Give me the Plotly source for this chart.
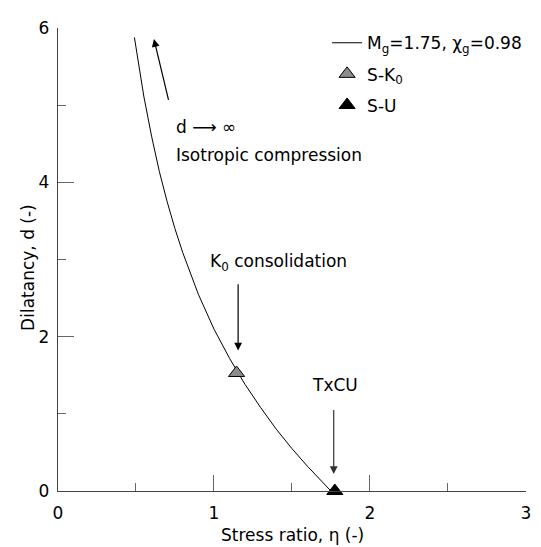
import plotly.graph_objects as go

# Dilatancy curve
eta_curve = [0.49, 0.52, 0.55, 0.60, 0.65, 0.70, 0.75, 0.80, 0.90, 1.00, 1.10, 1.20, 1.30, 1.40, 1.50, 1.60, 1.70, 1.75]
d_curve = [5.88, 5.48, 5.12, 4.60, 4.14, 3.75, 3.40, 3.09, 2.55, 2.10, 1.72, 1.38, 1.08, 0.80, 0.55, 0.32, 0.10, 0.0]

# Test points
eta_sk0 = [1.145]
d_sk0 = [1.53]
eta_su = [1.775]
d_su = [0.0]

x_ticks = [0, 1, 2, 3]
y_ticks = [0, 2, 4, 6]

FONT = "DejaVu Sans"
fs = 17

fig = go.Figure()
fig.add_trace(go.Scatter(x=eta_curve, y=d_curve, mode="lines",
                         line=dict(color="black", width=1),
                         name="M<sub>g</sub>=1.75, χ<sub>g</sub>=0.98", legendgroup="a"))
fig.add_trace(go.Scatter(x=eta_sk0, y=d_sk0, mode="markers",
                         marker=dict(symbol="triangle-up", size=14, color="#8c8c8c",
                                     line=dict(color="black", width=1)),
                         name="S-K<sub>0</sub>", legendgroup="b", cliponaxis=False))
fig.add_trace(go.Scatter(x=eta_su, y=d_su, mode="markers",
                         marker=dict(symbol="triangle-up", size=14, color="black",
                                     line=dict(color="black", width=1)),
                         name="S-U", legendgroup="c", cliponaxis=False))

axis_common = dict(showgrid=False, zeroline=False, showline=True, linecolor="#444", linewidth=1.3,
                   ticks="inside", ticklen=16, tickcolor="#666", tickwidth=1.3,
                   tickfont=dict(family=FONT, size=17, color="black"), mirror=False)

fig.update_xaxes(range=[0, 3.001], tickvals=x_ticks, ticklabelstandoff=6,
                 minor=dict(ticks="inside", ticklen=8, dtick=0.5, tickcolor="#666", tickwidth=1.3),
                 **axis_common)
fig.update_yaxes(range=[0, 6.002], tickvals=y_ticks, ticklabelstandoff=4,
                 minor=dict(ticks="inside", ticklen=8, dtick=1, tickcolor="#666", tickwidth=1.3),
                 **axis_common)

ann = []
# axis titles
ann.append(dict(text="Stress ratio, η (-)", x=0.501, y=-0.094, xref="paper", yref="paper",
                showarrow=False, font=dict(family=FONT, size=fs, color="black"),
                xanchor="center", yanchor="middle"))
ann.append(dict(text="Dilatancy, d (-)", x=-0.063, y=0.483, xref="paper", yref="paper",
                showarrow=False, textangle=-90, font=dict(family=FONT, size=fs, color="black"),
                xanchor="center", yanchor="middle"))
# text labels
ann.append(dict(text="d ⟶ ∞", x=0.745, y=4.72, xref="x", yref="y", showarrow=False,
                xanchor="left", yanchor="middle", font=dict(family=FONT, size=fs, color="black")))
ann.append(dict(text="Isotropic compression", x=0.745, y=4.36, xref="x", yref="y", showarrow=False,
                xanchor="left", yanchor="middle", font=dict(family=FONT, size=fs, color="black")))
ann.append(dict(text="K<sub>0</sub> consolidation", x=0.965, y=2.96, xref="x", yref="y", showarrow=False,
                xanchor="left", yanchor="middle", font=dict(family=FONT, size=fs, color="black")))
ann.append(dict(text="TxCU", x=1.775, y=1.37, xref="x", yref="y", showarrow=False,
                xanchor="center", yanchor="middle", font=dict(family=FONT, size=fs, color="black")))
# arrows
ann.append(dict(text="", x=0.615, y=5.86, ax=0.711, ay=5.05, xref="x", yref="y", axref="x", ayref="y",
                showarrow=True, arrowhead=2, arrowsize=1.3, arrowwidth=1.2, arrowcolor="black"))
ann.append(dict(text="", x=1.155, y=1.82, ax=1.155, ay=2.70, xref="x", yref="y", axref="x", ayref="y",
                showarrow=True, arrowhead=2, arrowsize=1.3, arrowwidth=1.2, arrowcolor="black"))
ann.append(dict(text="", x=1.768, y=0.22, ax=1.768, ay=1.07, xref="x", yref="y", axref="x", ayref="y",
                showarrow=True, arrowhead=2, arrowsize=1.3, arrowwidth=1.2, arrowcolor="#333"))

fig.update_layout(
    width=533, height=539,
    margin=dict(l=50, r=10, t=10, b=56),
    plot_bgcolor="white", paper_bgcolor="white",
    showlegend=True,
    legend=dict(x=0.575, y=1.006, xanchor="left", yanchor="top", bgcolor="rgba(0,0,0,0)",
                font=dict(family=FONT, size=fs, color="black"), traceorder="grouped",
                tracegroupgap=6, itemwidth=30),
    annotations=ann,
    font=dict(family=FONT, color="black"),
)

fig.write_html("out.html")
